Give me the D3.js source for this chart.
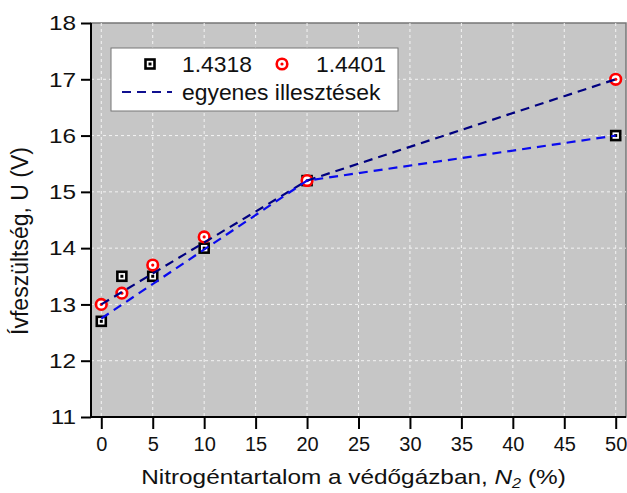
<!DOCTYPE html>
<html>
<head>
<meta charset="utf-8">
<script src="https://cdn.jsdelivr.net/npm/d3@7"></script>
<style>
  body { margin: 0; background: #fff; }
  svg { font-family: "Liberation Sans", Arial, sans-serif; }
</style>
</head>
<body>
<svg id="chart"></svg>
<script>
// data
const nitrogen = [0, 2, 5, 10, 20, 50];
const series1Name = '1.4318';
const series1 = [12.7, 13.5, 13.5, 14.0, 15.2, 16.0];
const series2Name = '1.4401';
const series2 = [13.0, 13.2, 13.7, 14.2, 15.2, 17.0];

// fitted straight line pieces (x, y)
const fit1 = [[0, 12.75], [20, 15.2], [50, 16.0]];
const fit2 = [[0, 13.0], [20, 15.2], [50, 17.0]];
const fitName = 'egyenes illesztések';

const xTicks = [0, 5, 10, 15, 20, 25, 30, 35, 40, 45, 50];
const yTicks = [11, 12, 13, 14, 15, 16, 17, 18];

function buildChart() {
    const width = 627;
    const height = 493;
    const svg = d3.select('#chart').attr('width', width).attr('height', height);

    // plot box
    const left = 91, right = 626, top = 23, bottom = 417;
    // the original text looks a bit wide, so stretch it horizontally
    const sx = 1.16;

    const x = d3.scaleLinear().domain([-1, 51]).range([left, right]);
    const y = d3.scaleLinear().domain([11, 18]).range([bottom, top]);

    // gray background
    svg.append('rect')
        .attr('x', left).attr('y', top)
        .attr('width', right - left).attr('height', bottom - top)
        .attr('fill', '#c6c6c6')
        .attr('stroke', '#777')
        .attr('stroke-width', 1.5);

    // white dashed grid
    const grid = svg.append('g');
    grid.selectAll('.gx')
        .data(xTicks)
        .enter()
        .append('line')
        .attr('x1', d => x(d)).attr('x2', d => x(d))
        .attr('y1', top).attr('y2', bottom)
        .attr('stroke', '#f4f4f4')
        .attr('stroke-width', 1)
        .attr('stroke-dasharray', '3,3');
    grid.selectAll('.gy')
        .data(yTicks.slice(1, -1))
        .enter()
        .append('line')
        .attr('x1', left).attr('x2', right)
        .attr('y1', d => y(d)).attr('y2', d => y(d))
        .attr('stroke', '#f4f4f4')
        .attr('stroke-width', 1)
        .attr('stroke-dasharray', '3,3');

    // y axis
    const yAxis = svg.append('g')
        .attr('transform', `translate(${left},0)`)
        .call(d3.axisLeft(y).tickValues(yTicks).tickFormat(d3.format('d')).tickSize(10).tickPadding(5));
    yAxis.select('.domain').attr('stroke', '#000').attr('stroke-width', 2).attr('d', `M0,${top}V${bottom}`);
    yAxis.selectAll('.tick line').attr('stroke', '#000').attr('stroke-width', 2);
    yAxis.selectAll('.tick text')
        .attr('font-size', 21).attr('fill', '#111')
        .attr('font-family', '"Liberation Sans", Arial, sans-serif')
        .attr('x', -15 / sx)
        .attr('transform', `scale(${sx},1)`);

    // bottom axis line
    svg.append('line')
        .attr('x1', left).attr('x2', right)
        .attr('y1', bottom).attr('y2', bottom)
        .attr('stroke', '#000').attr('stroke-width', 2);

    // x axis, ticks hang below the frame
    const xAxis = svg.append('g')
        .attr('transform', `translate(0,${bottom + 1})`)
        .call(d3.axisBottom(x).tickValues(xTicks).tickSize(11).tickPadding(8));
    xAxis.select('.domain').remove();
    xAxis.selectAll('.tick line').attr('stroke', '#000').attr('stroke-width', 2);
    xAxis.selectAll('.tick text')
        .attr('font-size', 20).attr('fill', '#111')
        .attr('font-family', '"Liberation Sans", Arial, sans-serif');

    // axis titles
    const xTitle = svg.append('text')
        .attr('transform', `translate(${(left + right) / 2 - 5},484) scale(${sx},1)`)
        .attr('text-anchor', 'middle')
        .attr('font-size', 21)
        .attr('fill', '#111');
    xTitle.append('tspan').text('Nitrogéntartalom a védőgázban, ');
    xTitle.append('tspan').attr('font-style', 'italic').text('N');
    xTitle.append('tspan').attr('font-style', 'italic').attr('font-size', 14).attr('dy', 4).text('2');
    xTitle.append('tspan').attr('dy', -4).text(' (%)');

    svg.append('text')
        .attr('transform', `translate(28,241) rotate(-90)`)
        .attr('text-anchor', 'middle')
        .attr('font-size', 23)
        .attr('fill', '#111')
        .text('Ívfeszültség, U (V)');

    // markers
    const pts1 = nitrogen.map((n, i) => [n, series1[i]]);
    const pts2 = nitrogen.map((n, i) => [n, series2[i]]);

    function drawSquare(g, cx, cy) {
        g.append('rect')
            .attr('x', cx - 4.5).attr('y', cy - 4.5)
            .attr('width', 9).attr('height', 9)
            .attr('fill', '#fff')
            .attr('stroke', '#000')
            .attr('stroke-width', 2.6);
        g.append('rect')
            .attr('x', cx - 1.5).attr('y', cy - 1.5)
            .attr('width', 3).attr('height', 3)
            .attr('fill', '#000');
    }
    function drawCircle(g, cx, cy) {
        g.append('circle')
            .attr('cx', cx).attr('cy', cy).attr('r', 5.3)
            .attr('fill', '#fff')
            .attr('stroke', '#f00')
            .attr('stroke-width', 2.6);
        g.append('circle')
            .attr('cx', cx).attr('cy', cy).attr('r', 1.6)
            .attr('fill', '#f00');
    }

    const marks = svg.append('g');
    pts1.forEach(p => drawSquare(marks, x(p[0]), y(p[1])));
    pts2.forEach(p => drawCircle(marks, x(p[0]), y(p[1])));

    // fit lines, drawn over the markers
    const line = d3.line().x(d => x(d[0])).y(d => y(d[1]));
    svg.append('path')
        .attr('d', line(fit2))
        .attr('fill', 'none')
        .attr('stroke', '#000080')
        .attr('stroke-width', 2.2)
        .attr('stroke-dasharray', '9,6');
    svg.append('path')
        .attr('d', line(fit1))
        .attr('fill', 'none')
        .attr('stroke', '#0a0aee')
        .attr('stroke-width', 2.2)
        .attr('stroke-dasharray', '9,6');

    // legend
    const legend = svg.append('g');
    legend.append('rect')
        .attr('x', 111).attr('y', 48)
        .attr('width', 287).attr('height', 63)
        .attr('fill', '#fff')
        .attr('stroke', '#777')
        .attr('stroke-width', 1);
    drawSquare(legend, 150, 64);
    drawCircle(legend, 282, 64);
    legend.append('line')
        .attr('x1', 122).attr('x2', 172)
        .attr('y1', 92).attr('y2', 92)
        .attr('stroke', '#101090')
        .attr('stroke-width', 2.2)
        .attr('stroke-dasharray', '9,6');

    const legendTexts = [[182, 72, series1Name], [316, 72, series2Name], [182, 100, fitName]];
    legend.selectAll('.lt')
        .data(legendTexts)
        .enter()
        .append('text')
        .attr('transform', d => `translate(${d[0]},${d[1]}) scale(1.04,1)`)
        .attr('font-size', 22)
        .attr('fill', '#111')
        .text(d => d[2]);
}

buildChart();
</script>
</body>
</html>
